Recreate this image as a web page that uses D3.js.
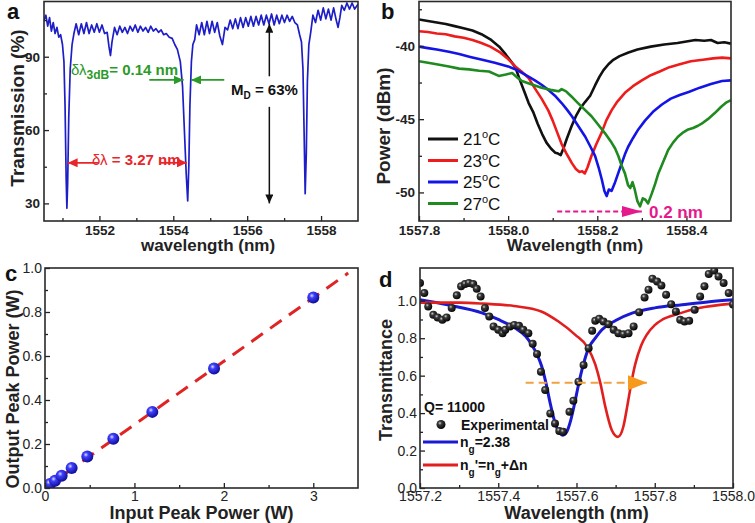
<!DOCTYPE html>
<html lang="en">
<head>
<meta charset="UTF-8" />
<title>Microring resonance figure</title>
<script src="https://d3js.org/d3.v7.min.js"></script>
<style>
  body { margin: 0; background: #fff; }
  svg text { font-family: "Liberation Sans", Arial, sans-serif; }
</style>
</head>
<body>
<svg id="fig" width="755" height="523"></svg>
<script>
// ---------- data ----------
// panel a: transmission spectrum [wavelength nm, %]
var specA = [
  [1550.50,105],[1550.55,107],[1550.60,102.5],[1550.65,106],[1550.70,100.5],[1550.75,104],[1550.80,99.5],
  [1550.85,102],[1550.90,98],[1550.95,99],[1551.00,95],[1551.04,88],[1551.07,70],[1551.10,40],[1551.12,28],
  [1551.14,38],[1551.17,65],[1551.21,85],[1551.26,95],[1551.31,99.5],[1551.37,103.5],[1551.44,99],
  [1551.51,103.5],[1551.58,99.5],[1551.65,104],[1551.72,99.5],[1551.79,103],[1551.86,100],[1551.93,103.5],
  [1552.00,100],[1552.07,103],[1552.14,99.5],[1552.21,100],[1552.26,94],[1552.30,90.5],[1552.34,96],
  [1552.41,102],[1552.48,99],[1552.55,102.5],[1552.62,100],[1552.69,102],[1552.76,99.5],[1552.83,102.5],
  [1552.90,100.5],[1552.97,103],[1553.04,100],[1553.11,102.5],[1553.18,100.5],[1553.25,102],[1553.32,100],
  [1553.39,102.5],[1553.46,100.5],[1553.53,101.5],[1553.60,100],[1553.67,101],[1553.74,99],[1553.81,99.5],
  [1553.89,98],[1553.97,97.5],[1554.04,95],[1554.11,93],[1554.19,88],[1554.25,78],[1554.30,60],[1554.35,42],
  [1554.39,31],[1554.42,45],[1554.45,70],[1554.49,88],[1554.53,95],[1554.58,97],[1554.63,103],[1554.70,99],
  [1554.77,104],[1554.84,99],[1554.91,104.5],[1554.98,99.5],[1555.05,104.5],[1555.12,100],[1555.19,104],
  [1555.26,98.5],[1555.33,95],[1555.40,102],[1555.47,101],[1555.54,105],[1555.61,101.5],[1555.68,105.5],
  [1555.75,101.5],[1555.82,106],[1555.89,102],[1555.96,106],[1556.03,102.5],[1556.10,106.5],[1556.17,102.5],
  [1556.24,106.5],[1556.31,103],[1556.38,107],[1556.45,103],[1556.52,107],[1556.59,103.5],[1556.66,107.5],
  [1556.73,103],[1556.80,107],[1556.87,103.5],[1556.94,107],[1557.01,104],[1557.08,107],[1557.15,104.5],
  [1557.22,106.5],[1557.29,104],[1557.36,103],[1557.42,99],[1557.47,96],[1557.51,85],[1557.54,60],
  [1557.57,34],[1557.60,50],[1557.63,80],[1557.67,95],[1557.72,100],[1557.78,107],[1557.85,104],
  [1557.92,109],[1557.99,105],[1558.06,110],[1558.13,105.5],[1558.20,109.5],[1558.27,105],[1558.34,110],
  [1558.41,105],[1558.46,102],[1558.51,106],[1558.56,111],[1558.63,109],[1558.70,112],[1558.77,109.5],
  [1558.84,112],[1558.91,109.5],[1559.00,111.5]
];
var aXTicks = [1552, 1554, 1556, 1558], aXMinor = [1551, 1553, 1555, 1557];
var aYTicks = [30, 60, 90], aYMinor = [45, 75, 105];

// panel b: spectra at four temperatures [wavelength nm, dBm]
var b21 = [
  [1557.800,-38.20],[1557.820,-38.30],[1557.840,-38.40],[1557.860,-38.50],[1557.880,-38.65],[1557.900,-38.80],
  [1557.920,-38.95],[1557.940,-39.20],[1557.960,-39.55],[1557.980,-40.05],[1557.995,-40.60],[1558.005,-41.00],
  [1558.016,-41.45],[1558.026,-42.30],[1558.036,-43.10],[1558.046,-43.90],[1558.056,-44.50],[1558.066,-45.30],
  [1558.076,-46.00],[1558.086,-46.60],[1558.096,-47.00],[1558.106,-47.30],[1558.112,-47.35],[1558.118,-47.45],
  [1558.124,-47.00],[1558.132,-46.30],[1558.142,-45.50],[1558.152,-44.80],[1558.162,-44.25],[1558.172,-43.85],
  [1558.184,-43.40],[1558.195,-42.70],[1558.205,-42.10],[1558.214,-41.65],[1558.225,-41.25],[1558.236,-40.95],
  [1558.250,-40.70],[1558.270,-40.45],[1558.290,-40.25],[1558.320,-40.05],[1558.350,-39.90],[1558.380,-39.80],
  [1558.400,-39.70],[1558.420,-39.60],[1558.440,-39.65],[1558.455,-39.60],[1558.470,-39.80],[1558.485,-39.75],
  [1558.500,-39.85]
];
var b23 = [
  [1557.800,-39.00],[1557.820,-39.05],[1557.840,-39.15],[1557.860,-39.20],[1557.880,-39.35],[1557.900,-39.45],
  [1557.920,-39.60],[1557.940,-39.80],[1557.960,-40.05],[1557.980,-40.40],[1558.000,-40.90],[1558.016,-41.40],
  [1558.030,-41.75],[1558.046,-42.20],[1558.060,-42.90],[1558.075,-43.60],[1558.090,-44.40],[1558.100,-45.10],
  [1558.110,-45.90],[1558.120,-46.70],[1558.130,-47.30],[1558.143,-48.00],[1558.152,-48.40],[1558.160,-48.60],
  [1558.166,-48.55],[1558.172,-48.70],[1558.178,-48.30],[1558.187,-47.50],[1558.198,-46.70],[1558.210,-45.90],
  [1558.220,-45.10],[1558.232,-44.40],[1558.245,-43.80],[1558.262,-43.20],[1558.280,-42.75],[1558.300,-42.35],
  [1558.320,-42.00],[1558.340,-41.75],[1558.362,-41.45],[1558.385,-41.25],[1558.410,-41.05],[1558.437,-40.95],
  [1558.460,-40.85],[1558.480,-40.80],[1558.500,-40.85]
];
var b25 = [
  [1557.800,-40.05],[1557.820,-40.15],[1557.840,-40.25],[1557.867,-40.40],[1557.890,-40.55],[1557.915,-40.75],
  [1557.942,-40.95],[1557.970,-41.15],[1558.000,-41.40],[1558.020,-41.65],[1558.040,-42.00],[1558.060,-42.35],
  [1558.075,-42.65],[1558.090,-43.00],[1558.105,-43.40],[1558.120,-43.90],[1558.132,-44.35],[1558.143,-44.80],
  [1558.158,-45.50],[1558.173,-46.20],[1558.185,-46.90],[1558.195,-47.50],[1558.203,-48.30],[1558.210,-49.10],
  [1558.216,-49.90],[1558.221,-50.25],[1558.226,-49.80],[1558.232,-49.90],[1558.240,-49.30],[1558.248,-48.60],
  [1558.255,-48.00],[1558.262,-47.40],[1558.269,-46.90],[1558.280,-46.30],[1558.292,-45.70],[1558.307,-45.10],
  [1558.325,-44.50],[1558.345,-44.00],[1558.365,-43.60],[1558.385,-43.35],[1558.405,-43.15],[1558.430,-42.85],
  [1558.455,-42.60],[1558.480,-42.40],[1558.500,-42.35]
];
var b27 = [
  [1557.800,-41.05],[1557.830,-41.20],[1557.867,-41.40],[1557.890,-41.55],[1557.912,-41.60],[1557.935,-41.70],
  [1557.957,-41.75],[1557.979,-42.05],[1557.995,-41.95],[1558.009,-41.85],[1558.020,-42.15],[1558.031,-42.40],
  [1558.050,-42.60],[1558.075,-42.85],[1558.095,-43.00],[1558.113,-43.10],[1558.120,-42.95],[1558.130,-43.10],
  [1558.142,-43.45],[1558.155,-43.85],[1558.170,-44.30],[1558.187,-44.80],[1558.200,-45.30],[1558.217,-45.95],
  [1558.232,-46.60],[1558.240,-47.00],[1558.247,-47.50],[1558.255,-48.20],[1558.262,-48.70],[1558.269,-49.50],
  [1558.274,-49.70],[1558.279,-49.30],[1558.284,-49.80],[1558.290,-50.60],[1558.296,-50.95],[1558.302,-50.40],
  [1558.308,-50.50],[1558.314,-50.75],[1558.322,-50.10],[1558.330,-49.40],[1558.337,-48.70],[1558.348,-47.90],
  [1558.359,-47.10],[1558.370,-46.60],[1558.381,-46.20],[1558.393,-45.90],[1558.404,-45.70],[1558.415,-45.60],
  [1558.426,-45.45],[1558.437,-45.25],[1558.448,-45.00],[1558.463,-44.60],[1558.478,-44.15],[1558.490,-43.85],
  [1558.500,-43.70]
];
var bTemps = ["21", "23", "25", "27"];
var bColors = ["#111111", "#ee1c1c", "#1414e6", "#1f8a1f"];
var bXTicks = [1557.8, 1558.0, 1558.2, 1558.4], bXMinor = [1557.9, 1558.1, 1558.3];
var bYTicks = [-50, -45, -40], bYMinor = [-47.5, -42.5, -37.5];

// panel c: input vs output peak power (W)
var cIn  = [0.02, 0.056, 0.112, 0.186, 0.298, 0.473, 0.764, 1.20, 1.89, 3.00];
var cOut = [0.01, 0.018, 0.033, 0.056, 0.091, 0.143, 0.224, 0.346, 0.543, 0.866];
var cFit = [[0, 0], [3.39, 0.977]];
var cXTicks = [0, 1, 2, 3], cXMinor = [0.5, 1.5, 2.5];
var cYTicks = [0, 0.2, 0.4, 0.6, 0.8, 1.0], cYMinor = [0.1, 0.3, 0.5, 0.7, 0.9];

// panel d: experimental points and two Lorentzian fits [wavelength nm, T]
var dExp = [
  [1557.200,1.095],[1557.211,1.041],[1557.221,0.970],[1557.234,0.925],[1557.245,0.911],[1557.257,0.898],
  [1557.268,0.911],[1557.281,0.961],[1557.294,1.029],[1557.305,1.077],[1557.315,1.089],[1557.325,1.095],
  [1557.336,1.089],[1557.345,1.064],[1557.355,1.023],[1557.366,0.961],[1557.377,0.916],[1557.388,0.863],
  [1557.400,0.845],[1557.411,0.827],[1557.418,0.845],[1557.430,0.863],[1557.441,0.871],[1557.453,0.866],
  [1557.464,0.845],[1557.477,0.827],[1557.488,0.770],[1557.499,0.716],[1557.509,0.621],[1557.520,0.523],
  [1557.533,0.398],[1557.545,0.345],[1557.556,0.305],[1557.566,0.300],[1557.582,0.407],[1557.592,0.466],
  [1557.605,0.568],[1557.618,0.657],[1557.631,0.747],[1557.640,0.840],[1557.648,0.893],[1557.658,0.904],
  [1557.669,0.889],[1557.682,0.875],[1557.695,0.845],[1557.707,0.827],[1557.720,0.821],[1557.733,0.827],
  [1557.746,0.863],[1557.760,0.939],[1557.774,1.018],[1557.784,1.059],[1557.794,1.118],[1557.806,1.103],
  [1557.817,1.082],[1557.829,1.032],[1557.842,0.982],[1557.854,0.943],[1557.865,0.898],[1557.876,0.889],
  [1557.888,0.893],[1557.902,0.952],[1557.916,1.023],[1557.927,1.077],[1557.938,1.143],[1557.952,1.161],
  [1557.963,1.130],[1557.976,1.095],[1557.989,1.041],[1558.000,0.980]
];
var dFit = [
  [1557.200,1.005],[1557.270,0.978],[1557.360,0.934],[1557.400,0.900],[1557.443,0.854],[1557.470,0.810],
  [1557.486,0.764],[1557.500,0.710],[1557.511,0.650],[1557.522,0.560],[1557.532,0.460],[1557.545,0.350],
  [1557.555,0.300],[1557.564,0.282],[1557.575,0.300],[1557.585,0.360],[1557.595,0.450],[1557.605,0.550],
  [1557.615,0.640],[1557.631,0.747],[1557.648,0.800],[1557.665,0.845],[1557.700,0.895],[1557.742,0.934],
  [1557.800,0.962],[1557.870,0.979],[1557.940,0.995],[1558.000,1.005]
];
var dShift = [
  [1557.200,0.990],[1557.300,0.990],[1557.360,0.985],[1557.440,0.972],[1557.510,0.943],[1557.554,0.889],
  [1557.597,0.818],[1557.627,0.755],[1557.648,0.660],[1557.661,0.560],[1557.673,0.440],[1557.690,0.310],
  [1557.706,0.273],[1557.720,0.330],[1557.730,0.440],[1557.740,0.560],[1557.750,0.660],[1557.765,0.760],
  [1557.780,0.820],[1557.800,0.870],[1557.820,0.900],[1557.860,0.930],[1557.910,0.960],[1558.000,0.985]
];
var dXTicks = [1557.2, 1557.4, 1557.6, 1557.8, 1558.0], dXMinor = [1557.3, 1557.5, 1557.7, 1557.9];
var dYTicks = [0, 0.2, 0.4, 0.6, 0.8, 1.0], dYMinor = [0.1, 0.3, 0.5, 0.7, 0.9, 1.1];

// ---------- drawing ----------
var svg = d3.select("#fig");
var defs = svg.append("defs");

var gb = defs.append("radialGradient").attr("id", "ballBlue")
  .attr("cx", "38%").attr("cy", "35%").attr("r", "70%");
gb.append("stop").attr("offset", "0%").attr("stop-color", "#e0e0ff");
gb.append("stop").attr("offset", "28%").attr("stop-color", "#4040ff");
gb.append("stop").attr("offset", "100%").attr("stop-color", "#08088c");

var gk = defs.append("radialGradient").attr("id", "ballBlack")
  .attr("cx", "38%").attr("cy", "35%").attr("r", "70%");
gk.append("stop").attr("offset", "0%").attr("stop-color", "#d0d0d0");
gk.append("stop").attr("offset", "30%").attr("stop-color", "#3a3a3a");
gk.append("stop").attr("offset", "100%").attr("stop-color", "#000");

function marker(id, color, w, h) {
  defs.append("marker").attr("id", id)
    .attr("viewBox", "0 0 10 10").attr("refX", 10).attr("refY", 5)
    .attr("markerUnits", "userSpaceOnUse")
    .attr("markerWidth", w).attr("markerHeight", h)
    .attr("preserveAspectRatio", "none").attr("orient", "auto")
    .append("path").attr("d", "M0,0L10,5L0,10z").attr("fill", color);
}
marker("hGreen", "#2a9a2a", 10, 9);
marker("hRed", "#e8262a", 10, 9);
marker("hBlack", "#111", 9, 8);
marker("hPink", "#e6198c", 20, 11);
marker("hOrange", "#f59a1c", 19, 15);

function panel(id, box, xd, yd) {
  var p = {
    x: d3.scaleLinear().domain(xd).range([box[0], box[1]]),
    y: d3.scaleLinear().domain(yd).range([box[3], box[2]])
  };
  defs.append("clipPath").attr("id", id).append("rect")
    .attr("x", box[0]).attr("y", box[2])
    .attr("width", box[1] - box[0]).attr("height", box[3] - box[2]);
  p.g = svg.append("g");
  p.plot = p.g.append("g").attr("clip-path", "url(#" + id + ")");
  return p;
}

function axes(p, c) {
  var g = p.g.append("g");
  var xr = p.x.range(), yr = p.y.range();
  g.append("g").attr("transform", "translate(0," + yr[0] + ")")
    .call(d3.axisBottom(p.x).tickValues(c.xt).tickFormat(c.xf).tickSize(-5).tickPadding(c.xp));
  g.append("g").attr("transform", "translate(0," + yr[0] + ")")
    .call(d3.axisBottom(p.x).tickValues(c.xm).tickFormat("").tickSize(-3));
  g.append("g").attr("transform", "translate(" + xr[0] + ",0)")
    .call(d3.axisLeft(p.y).tickValues(c.yt).tickFormat(c.yf).tickSize(-5).tickPadding(c.yp));
  g.append("g").attr("transform", "translate(" + xr[0] + ",0)")
    .call(d3.axisLeft(p.y).tickValues(c.ym).tickFormat("").tickSize(-3));
  g.selectAll(".domain").remove();
  g.selectAll(".tick line").attr("stroke", "#222").attr("stroke-width", 1.3);
  g.selectAll(".tick text").attr("font-size", c.fs).attr("font-weight", c.fw)
    .style("font-weight", c.fw).attr("fill", "#222");
  g.append("rect").attr("x", xr[0]).attr("y", yr[1])
    .attr("width", xr[1] - xr[0]).attr("height", yr[0] - yr[1])
    .attr("fill", "none").attr("stroke", "#2a2a2a").attr("stroke-width", 1.6);
  // titles
  p.g.append("text").attr("x", (xr[0] + xr[1]) / 2 + c.xtdx).attr("y", c.xty)
    .attr("text-anchor", "middle").attr("font-size", c.tfs).attr("font-weight", "bold")
    .attr("fill", "#222").text(c.xtitle);
  p.g.append("text").attr("transform", "translate(" + c.ytx + "," + c.ytcy + ") rotate(-90)")
    .attr("text-anchor", "middle").attr("font-size", c.yfs).attr("font-weight", "bold")
    .attr("fill", "#222").text(c.ytitle);
  p.g.append("text").attr("x", c.lx).attr("y", c.ly).attr("font-size", 22)
    .attr("font-weight", "bold").attr("fill", "#111").text(c.letter);
}

function line(p) {
  return d3.line().x(function(d) { return p.x(d[0]); }).y(function(d) { return p.y(d[1]); });
}

// ---- panel a ----
var pa = panel("clipA", [44, 358, 1.5, 221], [1550.5, 1559.0], [22.8, 112.6]);
pa.plot.append("path").datum(specA).attr("d", line(pa))
  .attr("fill", "none").attr("stroke", "#1e1ec8").attr("stroke-width", 1.7)
  .attr("stroke-linejoin", "round");
axes(pa, {
  xt: aXTicks, xm: aXMinor, xf: d3.format("d"), xp: 4,
  yt: aYTicks, ym: aYMinor, yf: d3.format("d"), yp: 4,
  fs: 13.5, fw: "bold", tfs: 17, yfs: 19,
  xtitle: "wavelength (nm)", xty: 251, xtdx: 7,
  ytitle: "Transmission (%)", ytx: 24, ytcy: 108,
  letter: "a", lx: 7, ly: 19
});
function arrowA(x1, x2, yv, col, mk) {
  pa.g.append("line").attr("x1", pa.x(x1)).attr("x2", pa.x(x2))
    .attr("y1", pa.y(yv)).attr("y2", pa.y(yv))
    .attr("stroke", col).attr("stroke-width", 1.8).attr("marker-end", "url(#" + mk + ")");
}
arrowA(1553.35, 1554.28, 80.5, "#2a9a2a", "hGreen");
arrowA(1555.38, 1554.48, 80.5, "#2a9a2a", "hGreen");
arrowA(1551.99, 1551.14, 46.6, "#e8262a", "hRed");
arrowA(1553.64, 1554.37, 46.6, "#e8262a", "hRed");
var gTxt = pa.g.append("text").attr("x", 71).attr("y", 75).attr("font-size", 15)
  .attr("fill", "#2a9a2a");
gTxt.append("tspan").text("δλ");
gTxt.append("tspan").attr("dy", 4).attr("font-size", 12).attr("font-weight", "bold").text("3dB");
gTxt.append("tspan").attr("dy", -4).attr("font-weight", "bold").text("= 0.14 nm");
var rTxt = pa.g.append("text").attr("x", 92).attr("y", 165).attr("font-size", 15)
  .attr("fill", "#e8262a");
rTxt.append("tspan").text("δλ");
rTxt.append("tspan").attr("font-weight", "bold").text(" = 3.27 nm");
pa.g.append("line").attr("x1", pa.x(1556.6)).attr("x2", pa.x(1556.6))
  .attr("y1", pa.y(82)).attr("y2", pa.y(103.5))
  .attr("stroke", "#111").attr("stroke-width", 1.5).attr("marker-end", "url(#hBlack)");
pa.g.append("line").attr("x1", pa.x(1556.6)).attr("x2", pa.x(1556.6))
  .attr("y1", pa.y(69.5)).attr("y2", pa.y(30))
  .attr("stroke", "#111").attr("stroke-width", 1.5).attr("marker-end", "url(#hBlack)");
var mTxt = pa.g.append("text").attr("x", 231).attr("y", 95).attr("font-size", 15)
  .attr("font-weight", "bold").attr("fill", "#111");
mTxt.append("tspan").text("M");
mTxt.append("tspan").attr("dy", 4).attr("font-size", 10).text("D");
mTxt.append("tspan").attr("dy", -4).text(" = 63%");

// ---- panel b ----
var pb = panel("clipB", [419, 731, 1.5, 221], [1557.8, 1558.5], [-51.95, -36.97]);
[b21, b23, b25, b27].forEach(function(s, i) {
  pb.plot.append("path").datum(s).attr("d", line(pb))
    .attr("fill", "none").attr("stroke", bColors[i]).attr("stroke-width", 2.6)
    .attr("stroke-linejoin", "round");
});
axes(pb, {
  xt: bXTicks, xm: bXMinor, xf: function(d) { return d.toFixed(1); }, xp: 4,
  yt: bYTicks, ym: bYMinor, yf: function(d) { return String(d); }, yp: 4,
  fs: 13.5, fw: "bold", tfs: 17, yfs: 19,
  xtitle: "Wavelength (nm)", xty: 251, xtdx: 0,
  ytitle: "Power (dBm)", ytx: 390, ytcy: 126,
  letter: "b", lx: 381, ly: 19
});
bTemps.forEach(function(t, i) {
  var yy = 139 + i * 21.5;
  pb.g.append("line").attr("x1", 428).attr("x2", 458).attr("y1", yy).attr("y2", yy)
    .attr("stroke", bColors[i]).attr("stroke-width", 3);
  var tx = pb.g.append("text").attr("x", 463).attr("y", yy + 6).attr("font-size", 17)
    .attr("fill", "#111");
  tx.append("tspan").text(t);
  tx.append("tspan").attr("dy", -7).attr("font-size", 11).text("o");
  tx.append("tspan").attr("dy", 7).text("C");
});
pb.g.append("line").attr("x1", pb.x(1558.11)).attr("x2", pb.x(1558.30))
  .attr("y1", pb.y(-51.3)).attr("y2", pb.y(-51.3))
  .attr("stroke", "#e6198c").attr("stroke-width", 2.2).attr("stroke-dasharray", "5,3")
  .attr("marker-end", "url(#hPink)");
pb.g.append("text").attr("x", 649).attr("y", 218).attr("font-size", 17)
  .attr("font-weight", "bold").attr("fill", "#e6198c").text("0.2 nm");

// ---- panel c ----
var pc = panel("clipC", [45, 358, 268, 488], [0, 3.5], [0, 1.0]);
pc.plot.append("path").datum(cFit).attr("d", line(pc))
  .attr("fill", "none").attr("stroke", "#e02424").attr("stroke-width", 3)
  .attr("stroke-dasharray", "14,9");
pc.plot.selectAll("circle").data(cIn).enter().append("circle")
  .attr("cx", function(d) { return pc.x(d); })
  .attr("cy", function(d, i) { return pc.y(cOut[i]); })
  .attr("r", 6).attr("fill", "url(#ballBlue)");
axes(pc, {
  xt: cXTicks, xm: cXMinor, xf: d3.format("d"), xp: 3,
  yt: cYTicks, ym: cYMinor, yf: function(d) { return d.toFixed(1); }, yp: 3,
  fs: 14, fw: "normal", tfs: 18, yfs: 18,
  xtitle: "Input Peak Power (W)", xty: 519, xtdx: 0,
  ytitle: "Output Peak Power (W)", ytx: 19, ytcy: 389,
  letter: "c", lx: 5, ly: 281
});

// ---- panel d ----
var pd = panel("clipD", [420, 733, 268, 488], [1557.2, 1558.0], [0, 1.175]);
var dLine = line(pd).curve(d3.curveMonotoneX);
pd.plot.append("path").datum(dFit).attr("d", dLine)
  .attr("fill", "none").attr("stroke", "#1a1ad2").attr("stroke-width", 3);
pd.plot.append("path").datum(dShift).attr("d", dLine)
  .attr("fill", "none").attr("stroke", "#e21f1f").attr("stroke-width", 2.6);
pd.plot.selectAll("circle").data(dExp).enter().append("circle")
  .attr("cx", function(d) { return pd.x(d[0]); })
  .attr("cy", function(d) { return pd.y(d[1]); })
  .attr("r", 4).attr("fill", "url(#ballBlack)");
pd.g.append("line").attr("x1", pd.x(1557.47)).attr("x2", pd.x(1557.78))
  .attr("y1", pd.y(0.562)).attr("y2", pd.y(0.562))
  .attr("stroke", "#f2a040").attr("stroke-width", 2).attr("stroke-dasharray", "8,5")
  .attr("marker-end", "url(#hOrange)");
axes(pd, {
  xt: dXTicks, xm: dXMinor, xf: function(d) { return d.toFixed(1); }, xp: 3,
  yt: dYTicks, ym: dYMinor, yf: function(d) { return d.toFixed(1); }, yp: 3,
  fs: 14, fw: "normal", tfs: 18, yfs: 18,
  xtitle: "Wavelength (nm)", xty: 519, xtdx: 0,
  ytitle: "Transmittance", ytx: 392, ytcy: 380,
  letter: "d", lx: 379, ly: 287
});
// legend d
pd.g.append("text").attr("x", 424).attr("y", 412).attr("font-size", 14)
  .attr("font-weight", "bold").attr("fill", "#111").text("Q= 11000");
pd.g.append("circle").attr("cx", 441).attr("cy", 424.5).attr("r", 4.5).attr("fill", "url(#ballBlack)");
pd.g.append("text").attr("x", 461).attr("y", 430).attr("font-size", 14)
  .attr("font-weight", "bold").attr("fill", "#111").text("Experimental");
pd.g.append("line").attr("x1", 423).attr("x2", 458).attr("y1", 442).attr("y2", 442)
  .attr("stroke", "#1a1ad2").attr("stroke-width", 3);
var n1 = pd.g.append("text").attr("x", 460).attr("y", 447).attr("font-size", 14)
  .attr("font-weight", "bold").attr("fill", "#111");
n1.append("tspan").text("n");
n1.append("tspan").attr("dy", 6).attr("font-size", 10).text("g");
n1.append("tspan").attr("dy", -6).text("=2.38");
pd.g.append("line").attr("x1", 423).attr("x2", 458).attr("y1", 465).attr("y2", 465)
  .attr("stroke", "#e21f1f").attr("stroke-width", 3);
var n2 = pd.g.append("text").attr("x", 460).attr("y", 470).attr("font-size", 14)
  .attr("font-weight", "bold").attr("fill", "#111");
n2.append("tspan").text("n");
n2.append("tspan").attr("dy", 6).attr("font-size", 10).text("g");
n2.append("tspan").attr("dy", -6).text("'=n");
n2.append("tspan").attr("dy", 6).attr("font-size", 10).text("g");
n2.append("tspan").attr("dy", -6).text("+Δn");
</script>
</body>
</html>
